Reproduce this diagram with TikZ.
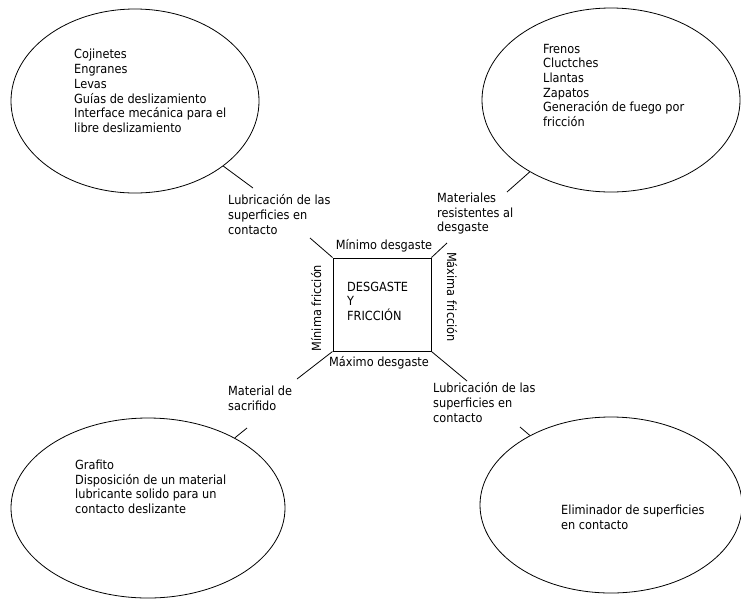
\documentclass[tikz,border=0pt]{standalone}
\usepackage{fontspec}
\setmainfont{DejaVu Sans Condensed}
\usetikzlibrary{shapes.geometric}

\tikzset{
  txt/.style={font=\fontsize{12.6}{14.7}\selectfont, align=left, inner sep=0pt,
              anchor=north west, execute at begin node=\strut},
  side/.style={font=\fontsize{12.6}{14.7}\selectfont, inner sep=0pt, anchor=base},
  bubble/.style={draw, ellipse, line width=0.8pt, inner sep=0pt},
  centerbox/.style={draw, line width=1pt, inner sep=0pt,
                    minimum width=98pt, minimum height=93pt},
  link/.style={line width=0.8pt}
}

\begin{document}
\begin{tikzpicture}[x=1pt, y=-1pt]
  % page area
  \fill[white] (0,0) rectangle (741,598);
  \useasboundingbox (0,0) rectangle (741,598);

  % four application bubbles
  \node[bubble, minimum width=248pt, minimum height=184pt] (tl) at (135,101) {};
  \node[bubble, minimum width=258pt, minimum height=184pt] (tr) at (611,100) {};
  \node[bubble, minimum width=274pt, minimum height=180pt] (bl) at (148,508) {};
  \node[bubble, minimum width=262pt, minimum height=176pt] (br) at (611,505) {};

  % bubble contents
  \node[txt] (tltext) at (74,49.2) {Cojinetes\\Engranes\\Levas\\Guías de deslizamiento\\Interface mecánica para el\\libre deslizamiento};
  \node[txt] (trtext) at (543,43.7) {Frenos\\Cluctches\\Llantas\\Zapatos\\Generación de fuego por\\fricción};
  \node[txt] (bltext) at (75,459.7) {Grafito\\Disposición de un material\\lubricante solido para un\\contacto deslizante};
  \node[txt] (brtext) at (561,504.7) {Eliminador de superficies\\en contacto};

  % central square
  \node[centerbox] (sq) at (382,304.5) {};
  \node[txt] (sqtext) at (347,281.7) {DESGASTE\\Y\\FRICCIÓN};

  % labels on the sides of the square
  \node[side] (top) at (384,249) {Mínimo desgaste};
  \node[side] (bottom) at (379,366) {Máximo desgaste};
  \node[side, rotate=90] (left) at (321,308) {Mínima fricción};
  \node[side, rotate=-90] (right) at (447,297) {Máxima fricción};

  % labels on the diagonals
  \node[txt] (ltl) at (228,194.7) {Lubricación de las\\superficies en\\contacto};
  \node[txt] (ltr) at (437,192.7) {Materiales\\resistentes al\\desgaste};
  \node[txt] (lbl) at (228,385.7) {Material de\\sacrifido};
  \node[txt] (lbr) at (433,382.7) {Lubricación de las\\superficies en\\contacto};

  % free ends of the connectors
  \coordinate (ctl) at (310,238);
  \coordinate (ctr) at (447,243);
  \coordinate (cbl) at (297,379);
  \coordinate (cbr) at (467,381);
  \coordinate (etl) at (253,188);
  \coordinate (etr) at (507,192);
  \coordinate (ebl) at (247,428);
  \coordinate (ebr) at (520,427);

  % square corners to the labels
  \draw[link] (sq.north west) -- (ctl);
  \draw[link] (sq.north east) -- (ctr);
  \draw[link] (sq.south west) -- (cbl);
  \draw[link] (sq.south east) -- (cbr);

  % labels to the bubbles
  \draw[link] (etl) -- (tl);
  \draw[link] (etr) -- (tr);
  \draw[link] (ebl) -- (bl);
  \draw[link] (ebr) -- (br);
\end{tikzpicture}
\end{document}
